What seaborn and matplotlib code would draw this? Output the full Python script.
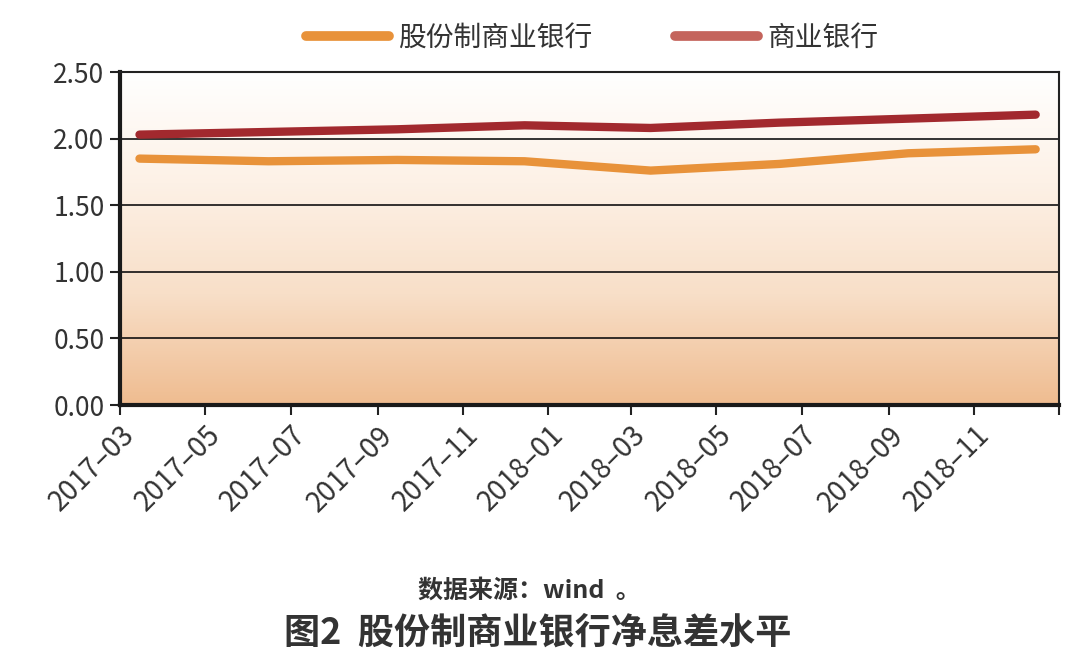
import numpy as np
import pandas as pd
import matplotlib
matplotlib.use("Agg")
import matplotlib.pyplot as plt
import matplotlib.dates as mdates
from matplotlib.lines import Line2D
from matplotlib.colors import LinearSegmentedColormap
import seaborn as sns

# ---- data ----
dates = ["2017-03-15", "2017-06-15", "2017-09-15", "2017-12-15",
         "2018-03-15", "2018-06-15", "2018-09-15", "2018-12-15"]
joint_stock = [1.85, 1.83, 1.84, 1.83, 1.76, 1.81, 1.89, 1.92]
commercial = [2.03, 2.05, 2.07, 2.10, 2.08, 2.12, 2.15, 2.18]
series_names = ["股份制商业银行", "商业银行"]
yticks = [0.0, 0.5, 1.0, 1.5, 2.0, 2.5]
source_text = "数据来源：wind  。"
title_text = "图2  股份制商业银行净息差水平"

df = pd.DataFrame({
    "date": pd.to_datetime(dates * 2),
    "value": joint_stock + commercial,
    "series": [series_names[0]] * len(dates) + [series_names[1]] * len(dates),
})

sns.set_theme(style="white")
plt.rcParams["font.family"] = ["Noto Sans CJK SC", "DejaVu Sans"]

line_colors = {series_names[0]: "#E8923A", series_names[1]: "#A2292E"}
legend_colors = ["#E8923A", "#C4645C"]

fig = plt.figure(figsize=(10.8, 6.7), dpi=100)
ax = fig.add_axes([0.111, 0.3955, 0.870, 0.497])

# gradient background
grad = np.linspace(0, 1, 256).reshape(-1, 1)
cmap = LinearSegmentedColormap.from_list("bg", ["#FFFFFF", "#FDF1E6", "#F8DFC8", "#EFBC90"])
ax.imshow(grad, extent=[0, 1, 0, 1], transform=ax.transAxes, aspect="auto",
          cmap=cmap, origin="upper", zorder=0)

sns.lineplot(data=df, x="date", y="value", hue="series", palette=line_colors,
             linewidth=6, ax=ax, legend=False, zorder=3,
             solid_capstyle="round")

ax.set_xlim(pd.Timestamp("2017-03-01"), pd.Timestamp("2019-01-01"))
ax.set_ylim(0, 2.5)
ax.set_yticks(yticks)
ax.set_yticklabels([f"{v:.2f}" for v in yticks], fontsize=19, color="#333333")
for v in yticks[1:]:
    ax.axhline(v, color="#111111", lw=1.2, zorder=2)

ax.xaxis.set_major_locator(mdates.MonthLocator(bymonth=[1, 3, 5, 7, 9, 11]))
ax.xaxis.set_major_formatter(mdates.DateFormatter("%Y–%m"))
ax.set_xlabel("")
ax.set_ylabel("")
plt.setp(ax.get_xticklabels(), rotation=45, ha="right", rotation_mode="anchor",
         fontsize=20, color="#333333")
fig.canvas.draw()
for lab in ax.get_xticklabels():
    if lab.get_text().startswith("2019"):
        lab.set_visible(False)

ax.tick_params(axis="both", which="major", direction="out", length=7,
               width=1.5, color="#222222", left=True, bottom=True)
ax.tick_params(axis="x", pad=4)
ax.tick_params(axis="y", pad=4)

for side in ["left", "bottom"]:
    ax.spines[side].set_linewidth(3)
    ax.spines[side].set_color("#1a1a1a")
for side in ["top", "right"]:
    ax.spines[side].set_linewidth(1.5)
    ax.spines[side].set_color("#222222")

handles = [Line2D([0], [0], color=c, lw=7, solid_capstyle="round") for c in legend_colors]
fig.legend(handles, series_names, loc="center", bbox_to_anchor=(0.548, 0.943),
           ncol=2, frameon=False, fontsize=20, handlelength=3.0,
           handletextpad=0.3, columnspacing=3.0, labelcolor="#333333")

fig.text(0.49, 0.118, source_text, ha="center", va="center", fontsize=18,
         fontweight="bold", color="#333333")
fig.text(0.498, 0.055, title_text, ha="center", va="center", fontsize=26,
         fontweight="bold", color="#333333")

fig.savefig("out.png", dpi=100, facecolor="white")
